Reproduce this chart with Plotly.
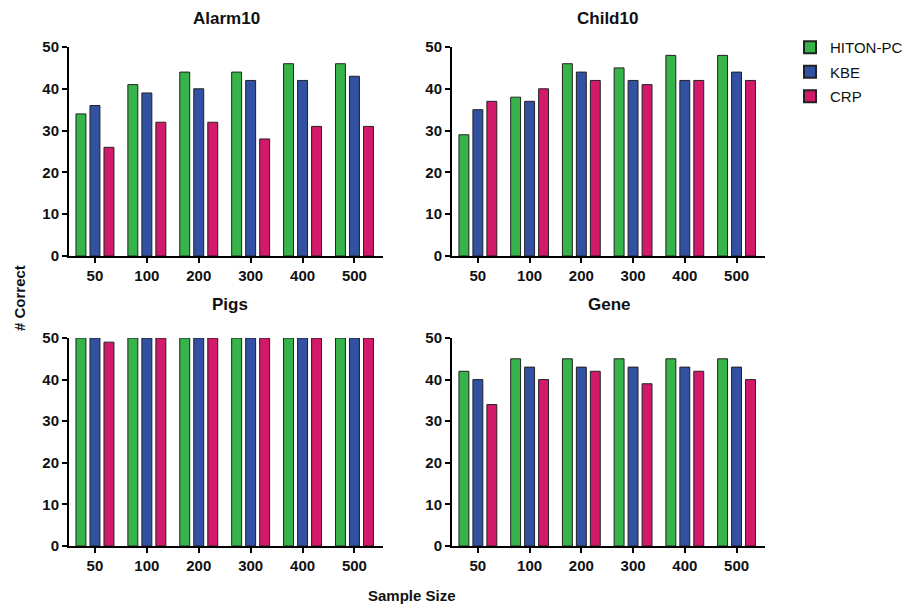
import plotly.graph_objects as go

sample_sizes = ["50", "100", "200", "300", "400", "500"]
methods = ["HITON-PC", "KBE", "CRP"]
colors = ["#36b44a", "#3251a3", "#d2196a"]

alarm10 = {
    "HITON-PC": [34, 41, 44, 44, 46, 46],
    "KBE": [36, 39, 40, 42, 42, 43],
    "CRP": [26, 32, 32, 28, 31, 31],
}
child10 = {
    "HITON-PC": [29, 38, 46, 45, 48, 48],
    "KBE": [35, 37, 44, 42, 42, 44],
    "CRP": [37, 40, 42, 41, 42, 42],
}
pigs = {
    "HITON-PC": [50, 50, 50, 50, 50, 50],
    "KBE": [50, 50, 50, 50, 50, 50],
    "CRP": [49, 50, 50, 50, 50, 50],
}
gene = {
    "HITON-PC": [42, 45, 45, 45, 45, 45],
    "KBE": [40, 43, 43, 43, 43, 43],
    "CRP": [34, 40, 42, 39, 42, 40],
}
panel_titles = ["Alarm10", "Child10", "Pigs", "Gene"]
panels = [alarm10, child10, pigs, gene]

OFF = 8  # page body margin
W, H = 910 - OFF, 606 - OFF
# screen pixel boxes: (x0, x1, ytop, ybottom)
boxes = [(69, 383, 47, 256), (452, 765, 47, 256), (69, 383, 338, 546), (452, 765, 338, 546)]


def px(x):
    return (x - OFF) / W


def py(y):
    return 1 - (y - OFF) / H


fig = go.Figure()
FONT = "Liberation Sans"
layout = {}
for i, (data, box) in enumerate(zip(panels, boxes)):
    n = "" if i == 0 else str(i + 1)
    xa, ya = "x" + n, "y" + n
    for j, m in enumerate(methods):
        fig.add_trace(go.Bar(
            x=sample_sizes, y=data[m], name=m, xaxis=xa, yaxis=ya,
            marker=dict(color=colors[j], line=dict(color="#222222", width=1)),
            showlegend=(i == 0), offsetgroup=str(j), legendgroup=m,
        ))
    x0, x1, yt, yb = box
    layout["xaxis" + n] = dict(
        domain=[px(x0), px(x1)], anchor=ya, type="category",
        range=[-0.5, 5.55], showline=True, linecolor="black", linewidth=2,
        ticks="outside", ticklen=5, tickwidth=2, tickcolor="black",
        tickfont=dict(family=FONT, size=15, color="#111", weight="bold"),
        showgrid=False, zeroline=False, fixedrange=True,
    )
    layout["yaxis" + n] = dict(
        domain=[py(yb), py(yt)], anchor=xa,
        range=[0, 50], tickvals=[0, 10, 20, 30, 40, 50],
        showline=True, linecolor="black", linewidth=2,
        ticks="outside", ticklen=5, tickwidth=2, tickcolor="black",
        tickfont=dict(family=FONT, size=15, color="#111", weight="bold"),
        showgrid=False, zeroline=False,
    )

annotations = []
title_pos = [(226, 19), (607, 19), (230, 304), (609, 304)]
for t, (tx, ty) in zip(panel_titles, title_pos):
    annotations.append(dict(text=t, x=px(tx), y=py(ty), xref="paper", yref="paper",
                            showarrow=False, xanchor="center", yanchor="middle",
                            font=dict(family=FONT, size=17, color="#111", weight="bold")))
annotations.append(dict(text="# Correct", x=px(19), y=py(298), xref="paper", yref="paper",
                        showarrow=False, textangle=-90, xanchor="center", yanchor="middle",
                        font=dict(family=FONT, size=15, color="#111", weight="bold")))
annotations.append(dict(text="Sample Size", x=px(412), y=py(595), xref="paper", yref="paper",
                        showarrow=False, xanchor="center", yanchor="middle",
                        font=dict(family=FONT, size=15, color="#111", weight="bold")))

fig.update_layout(
    **layout,
    width=W, height=H,
    margin=dict(l=0, r=0, t=0, b=0, autoexpand=False),
    plot_bgcolor="white", paper_bgcolor="white",
    barmode="group", bargap=0.19, bargroupgap=0.29,
    annotations=annotations,
    legend=dict(x=px(790), y=py(31), xanchor="left", yanchor="top",
                font=dict(family=FONT, size=15, color="#111"),
                tracegroupgap=2, itemsizing="constant", bgcolor="rgba(0,0,0,0)"),
)
fig.write_html("out.html")
